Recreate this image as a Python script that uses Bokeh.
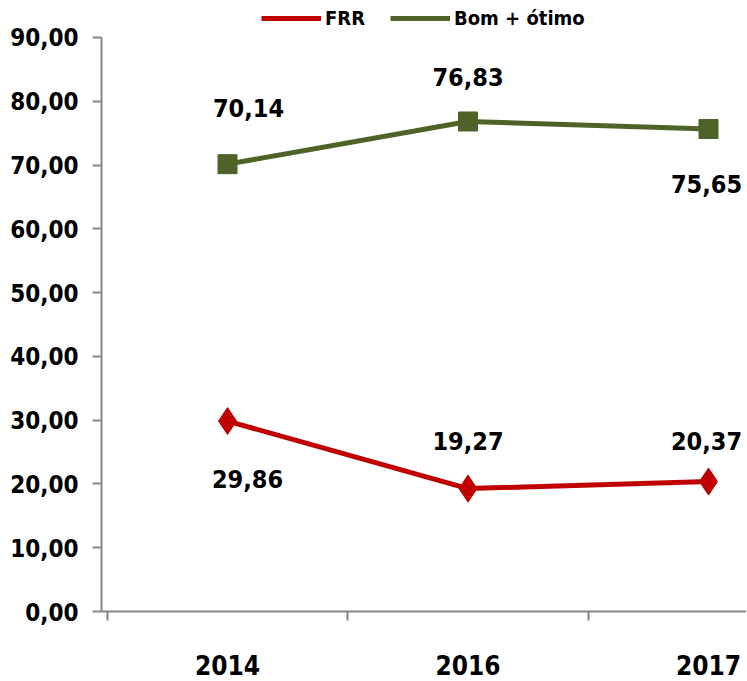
from bokeh.plotting import figure
from bokeh.models import Range1d, FixedTicker, CustomJSTickFormatter, Legend, LegendItem, ColumnDataSource
from bokeh.embed import file_html
from bokeh.resources import INLINE
from bokeh.core.properties import value

# ---- data ----
years = ["2014", "2016", "2017"]
frr = [29.86, 19.27, 20.37]
bom_otimo = [70.14, 76.83, 75.65]
y_ticks = [0, 10, 20, 30, 40, 50, 60, 70, 80, 90]

FONT = "DejaVu Sans Condensed"
RED = "#C00000"
GREEN = "#4F6228"
AXIS = "#868686"

xs = list(range(len(years)))

p = figure(width=746, height=680, output_backend="svg", toolbar_location=None,
           x_range=Range1d(-0.524, 2.158), y_range=Range1d(0, 95.8),
           min_border_left=101, min_border_right=0, min_border_bottom=69, min_border_top=0)
p.outline_line_color = None
p.grid.visible = False
p.background_fill_color = "white"

src_frr = ColumnDataSource(dict(x=xs, y=frr, lab=[f"{v:.2f}".replace(".", ",") for v in frr]))
src_bom = ColumnDataSource(dict(x=xs, y=bom_otimo, lab=[f"{v:.2f}".replace(".", ",") for v in bom_otimo]))

l_frr = p.line("x", "y", source=src_frr, line_color=RED, line_width=5)
m_frr = p.scatter("x", "y", source=src_frr, marker="diamond", size=27, fill_color=RED, line_color=RED)
l_bom = p.line("x", "y", source=src_bom, line_color=GREEN, line_width=5)
m_bom = p.scatter("x", "y", source=src_bom, marker="square", size=19, fill_color=GREEN, line_color=GREEN)

# data labels (offsets are styling)
src_frr.data["dx"] = [20, 0, -2]
src_frr.data["dy"] = [58, -48, -41]
src_bom.data["dx"] = [21, 0, -2]
src_bom.data["dy"] = [-56, -44, 55]
for s in (src_frr, src_bom):
    p.text("x", "y", text="lab", source=s, x_offset="dx", y_offset="dy",
           text_font=value(FONT), text_font_size="25px", text_font_style="bold",
           text_color="black", text_align="center", text_baseline="middle")

# y axis
ya = p.yaxis[0]
ya.bounds = (0, 90)
ya.ticker = FixedTicker(ticks=y_ticks, minor_ticks=[])
ya.formatter = CustomJSTickFormatter(code="return tick.toFixed(2).replace('.', ',');")
ya.axis_line_color = AXIS
ya.axis_line_width = 2
ya.major_tick_line_color = AXIS
ya.major_tick_line_width = 2
ya.major_tick_out = 9
ya.major_tick_in = 0
ya.minor_tick_out = 0
ya.major_label_standoff = 14
ya.major_label_text_font = FONT
ya.major_label_text_font_size = "24px"
ya.major_label_text_font_style = "bold"
ya.major_label_text_color = "black"

# x axis
xa = p.xaxis[0]
xa.ticker = FixedTicker(ticks=xs, minor_ticks=[-0.5, 0.5, 1.5])
xa.major_label_overrides = {i: y for i, y in zip(xs, years)}
xa.axis_line_color = AXIS
xa.axis_line_width = 2
xa.major_tick_out = 0
xa.major_tick_in = 0
xa.minor_tick_line_color = AXIS
xa.minor_tick_line_width = 2
xa.minor_tick_out = 9
xa.minor_tick_in = 0
xa.major_label_standoff = 34
xa.major_label_text_font = FONT
xa.major_label_text_font_size = "26px"
xa.major_label_text_font_style = "bold"
xa.major_label_text_color = "black"

legend = Legend(items=[LegendItem(label="FRR", renderers=[l_frr]),
                       LegendItem(label="Bom + ótimo", renderers=[l_bom])],
                orientation="horizontal", location=(160, 581),
                label_text_font=FONT, label_text_font_size="20px", label_text_font_style="bold",
                label_text_color="black",
                glyph_width=60, glyph_height=20, label_height=20, label_standoff=4,
                spacing=25, padding=2, margin=0, border_line_color=None,
                background_fill_alpha=0)
p.add_layout(legend)

open("out.html", "w").write(file_html(p, INLINE))
